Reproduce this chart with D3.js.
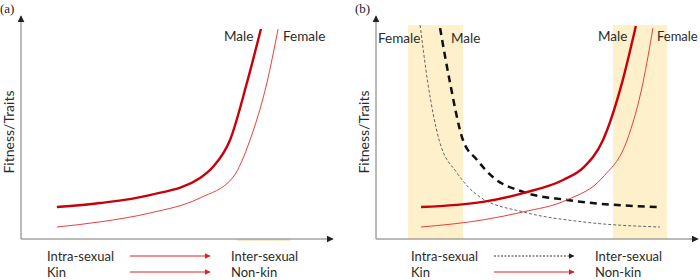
<!DOCTYPE html>
<html>
<head>
<meta charset="utf-8">
<script src="https://cdn.jsdelivr.net/npm/d3@7"></script>
<style>
  body { margin: 0; background: #fff; }
  text { font-family: Lato, "Open Sans", sans-serif; fill: #2b2b2b; }
</style>
</head>
<body>
<script>
// curve data, both axes 0..100 (arbitrary units)
var maleA   = [[11.5,14.4],[25.3,16.2],[41.3,19.8],[57.4,27.5],[61.5,32.4],[67.0,44.6],[72.4,70.3],[76.9,94.6]];
var femaleA = [[11.5,5.4],[25.3,7.7],[41.3,11.7],[57.4,18.5],[68.0,27.9],[73.4,44.6],[78.8,70.3],[82.4,94.6]];

var maleB      = [[14.0,14.4],[33.2,16.7],[45.7,20.7],[58.1,26.6],[64.3,32.0],[70.5,44.6],[76.4,70.3],[80.7,95.9]];
var femaleB    = [[14.0,5.4],[33.2,8.6],[45.7,12.2],[59.3,17.6],[70.5,27.9],[78.0,44.6],[82.9,70.3],[86.0,95.0]];
var maleDashB  = [[19.9,95.0],[23.0,70.3],[27.0,44.6],[31.4,35.6],[36.3,27.9],[45.7,21.2],[59.3,17.6],[87.3,14.4]];
var femDashB   = [[13.7,96.4],[16.1,70.3],[19.6,44.6],[25.2,29.7],[32.3,18.9],[45.7,12.2],[64.3,7.7],[88.2,5.4]];

var bandsB = [[9.9, 27.0], [73.6, 90.4]];

var rowLabels = ["Intra-sexual", "Kin"];
var endLabels = ["Inter-sexual", "Non-kin"];

var svg = d3.select("body").append("svg")
    .attr("width", 700)
    .attr("height", 280);

var defs = svg.append("defs");
function marker(id, col, w) {
  defs.append("marker")
      .attr("id", id)
      .attr("viewBox", "0 0 10 10")
      .attr("refX", 9).attr("refY", 5)
      .attr("markerWidth", w).attr("markerHeight", w)
      .attr("markerUnits", "userSpaceOnUse")
      .attr("orient", "auto")
    .append("path")
      .attr("d", "M0,0 L10,5 L0,10 z")
      .attr("fill", col);
}
marker("axHead", "#222", 7);
marker("redHead", "#e02020", 6);
marker("blkHead", "#222", 6);

var yScale = d3.scaleLinear().domain([0, 100]).range([239, 17]);

function panel(x0, x1, label) {
  var xScale = d3.scaleLinear().domain([0, 100]).range([x0, x1]);
  var g = svg.append("g");
  var line = d3.line()
      .x(function (d) { return xScale(d[0]); })
      .y(function (d) { return yScale(d[1]); })
      .curve(d3.curveMonotoneX);

  svg.append("text")
      .attr("x", x0 - 21).attr("y", 13)
      .style("font-family", "'Liberation Serif', serif")
      .style("font-size", "13px")
      .style("fill", "#222")
      .text(label);

  svg.append("text")
      .attr("transform", "translate(" + (x0 - 7) + ",132) rotate(-90)")
      .attr("text-anchor", "middle")
      .style("font-size", "14px")
      .text("Fitness/Traits");

  return { g: g, x: xScale, line: line };
}

function axes(p) {
  p.g.append("line")
      .attr("x1", p.x(0)).attr("y1", yScale(0))
      .attr("x2", p.x(0)).attr("y2", 16)
      .attr("stroke", "#777").attr("stroke-width", 1)
      .attr("marker-end", "url(#axHead)");
  p.g.append("line")
      .attr("x1", p.x(0)).attr("y1", yScale(0))
      .attr("x2", p.x(100)).attr("y2", yScale(0))
      .attr("stroke", "#777").attr("stroke-width", 1)
      .attr("marker-end", "url(#axHead)");
}

function legend(p, x0, arrowDotted) {
  rowLabels.forEach(function (t, i) {
    var y = 256 + i * 16;
    svg.append("text").attr("x", x0).attr("y", y + 4.5)
        .style("font-size", "13px").text(t);
    var dotted = arrowDotted && i == 0;
    svg.append("line")
        .attr("x1", x0 + 83).attr("y1", y)
        .attr("x2", x0 + 163).attr("y2", y)
        .attr("stroke", dotted ? "#333" : "#e02020")
        .attr("stroke-width", 1)
        .attr("stroke-dasharray", dotted ? "2,1.5" : null)
        .attr("marker-end", dotted ? "url(#blkHead)" : "url(#redHead)");
    svg.append("text").attr("x", x0 + 184).attr("y", y + 4.5)
        .style("font-size", "13px").text(endLabels[i]);
  });
}

// ---- panel (a)
var pa = panel(21, 333, "(a)");
pa.g.append("line")
    .attr("x1", 237).attr("x2", 290)
    .attr("y1", 240).attr("y2", 240)
    .attr("stroke", "#f3e6b8").attr("stroke-width", 1.5);
axes(pa);
pa.g.append("path").datum(femaleA)
    .attr("d", pa.line).attr("fill", "none")
    .attr("stroke", "#e8403a").attr("stroke-width", 1);
pa.g.append("path").datum(maleA)
    .attr("d", pa.line).attr("fill", "none")
    .attr("stroke", "#c8000a").attr("stroke-width", 2.4);
pa.g.append("text").attr("x", 224).attr("y", 41).style("font-size", "13.5px").text("Male");
pa.g.append("text").attr("x", 283).attr("y", 41).style("font-size", "13.5px").text("Female");
legend(pa, 47, false);

// ---- panel (b)
var pb = panel(376, 698, "(b)");
pb.g.selectAll("rect.band")
    .data(bandsB)
    .enter()
    .append("rect")
      .attr("class", "band")
      .attr("x", function (d) { return pb.x(d[0]); })
      .attr("width", function (d) { return pb.x(d[1]) - pb.x(d[0]); })
      .attr("y", 25)
      .attr("height", yScale(0) - 25)
      .attr("fill", "#fdf0cb");
axes(pb);
pb.g.append("path").datum(femDashB)
    .attr("d", pb.line).attr("fill", "none")
    .attr("stroke", "#666").attr("stroke-width", 1)
    .attr("stroke-dasharray", "3,2");
pb.g.append("path").datum(maleDashB)
    .attr("d", pb.line).attr("fill", "none")
    .attr("stroke", "#111").attr("stroke-width", 2.5)
    .attr("stroke-dasharray", "7,5");
pb.g.append("path").datum(femaleB)
    .attr("d", pb.line).attr("fill", "none")
    .attr("stroke", "#e8403a").attr("stroke-width", 1);
pb.g.append("path").datum(maleB)
    .attr("d", pb.line).attr("fill", "none")
    .attr("stroke", "#c8000a").attr("stroke-width", 2.4);
pb.g.append("text").attr("x", 378).attr("y", 43).style("font-size", "13.5px").text("Female");
pb.g.append("text").attr("x", 451).attr("y", 43).style("font-size", "13.5px").text("Male");
pb.g.append("text").attr("x", 598).attr("y", 41).style("font-size", "13.5px").text("Male");
pb.g.append("text").attr("x", 657).attr("y", 41).style("font-size", "13px").text("Female");
legend(pb, 411, true);
</script>
</body>
</html>
